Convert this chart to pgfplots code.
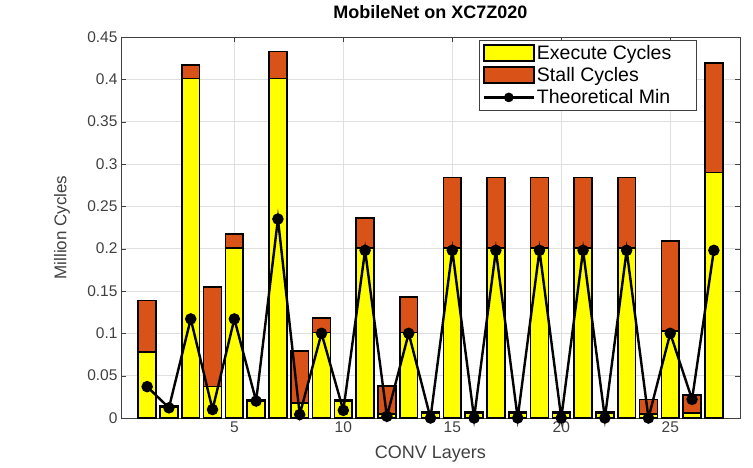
\documentclass[border=0pt]{standalone}
\usepackage{pgfplots}
\pgfplotsset{compat=1.18}
\usepackage{pgfplotstable}
\usepackage{fontspec}
\setmainfont{Liberation Sans}
\definecolor{myyellow}{rgb}{1,1,0}
\definecolor{myorange}{rgb}{0.85,0.325,0.098}
\definecolor{axgray}{gray}{0.25}
\pgfplotsset{
  yellowleg/.style={legend image code/.code={\draw[fill=myyellow, draw=black, line width=1.6pt] (0pt,-8pt) rectangle (50pt,8pt);}},
  orangeleg/.style={legend image code/.code={\draw[fill=myorange, draw=black, line width=1.6pt] (0pt,-8pt) rectangle (50pt,8pt);}},
  lineleg/.style={legend image code/.code={\draw[black, line width=2.4pt] (0pt,0pt) -- (50pt,0pt); \fill[black] (25pt,0pt) circle (4.5pt);}},
}
\pgfplotstableread{
x exec total tm
1 0.078 0.139 0.037
2 0.013 0.014 0.012
3 0.401 0.417 0.117
4 0.037 0.155 0.010
5 0.201 0.217 0.117
6 0.020 0.021 0.020
7 0.401 0.433 0.235
8 0.018 0.079 0.004
9 0.101 0.118 0.100
10 0.020 0.021 0.009
11 0.201 0.236 0.198
12 0.005 0.038 0.002
13 0.101 0.143 0.100
14 0.006 0.007 0.000
15 0.201 0.284 0.198
16 0.006 0.007 0.000
17 0.201 0.284 0.198
18 0.006 0.007 0.000
19 0.201 0.284 0.198
20 0.006 0.007 0.000
21 0.201 0.284 0.198
22 0.006 0.007 0.000
23 0.201 0.284 0.198
24 0.005 0.022 0.000
25 0.103 0.209 0.100
26 0.006 0.027 0.022
27 0.290 0.419 0.198
}\datatable
\begin{document}
\begin{tikzpicture}
\begin{axis}[
  scale only axis,
  width=619pt, height=381pt,
  xmin=-0.2, xmax=28.2,
  ymin=0, ymax=0.45,
  xtick={5,10,15,20,25},
  ytick={0,0.05,0.1,0.15,0.2,0.25,0.3,0.35,0.4,0.45},
  yticklabels={0,0.05,0.1,0.15,0.2,0.25,0.3,0.35,0.4,0.45},
  grid=major,
  major grid style={gray!25, line width=0.6pt},
  tick align=inside,
  major tick length=5pt,
  axis line style={axgray, line width=0.6pt},
  tick style={axgray},
  tick label style={font=\fontsize{15.5}{17}\selectfont, text=axgray},
  /pgf/number format/assume math mode=true,
  title={\textbf{MobileNet on XC7Z020}},
  title style={at={(axis description cs:0.5,1.05)}, anchor=center, font=\fontsize{18}{20}\selectfont},
  xlabel={CONV Layers},
  xlabel style={at={(axis description cs:0.5,-0.095)}, anchor=center, font=\fontsize{18}{20}\selectfont, text=axgray},
  ylabel={Million Cycles},
  ylabel style={at={(axis description cs:-0.0953,0.5)}, anchor=center, font=\fontsize{17}{19}\selectfont, text=axgray},
  legend style={at={(axis description cs:0.93,0.992)}, anchor=north east,
    font=\fontsize{19.5}{21}\selectfont, draw=axgray, line width=0.6pt,
    row sep=2.5pt, inner sep=3pt},
  legend cell align=left,
  clip=false,
]
\addplot[ybar, bar width=0.82, bar shift=0pt, fill=myorange, draw=black, line width=1.6pt, forget plot] table[x=x, y=total] {\datatable};
\addplot[ybar, bar width=0.82, bar shift=0pt, fill=myyellow, draw=black, line width=1.6pt, forget plot] table[x=x, y=exec] {\datatable};
\addplot[black, line width=2.4pt, mark=*, mark size=4.5pt, forget plot] table[x=x, y=tm] {\datatable};
\addlegendimage{yellowleg}
\addlegendentry{Execute Cycles\hspace*{20pt}}
\addlegendimage{orangeleg}
\addlegendentry{Stall Cycles}
\addlegendimage{lineleg}
\addlegendentry{Theoretical Min}
\end{axis}
\pgfresetboundingbox
\path[use as bounding box] ([shift={(-121pt,-50pt)}]current axis.south west) rectangle ([shift={(13pt,37pt)}]current axis.north east);
\end{tikzpicture}
\end{document}
